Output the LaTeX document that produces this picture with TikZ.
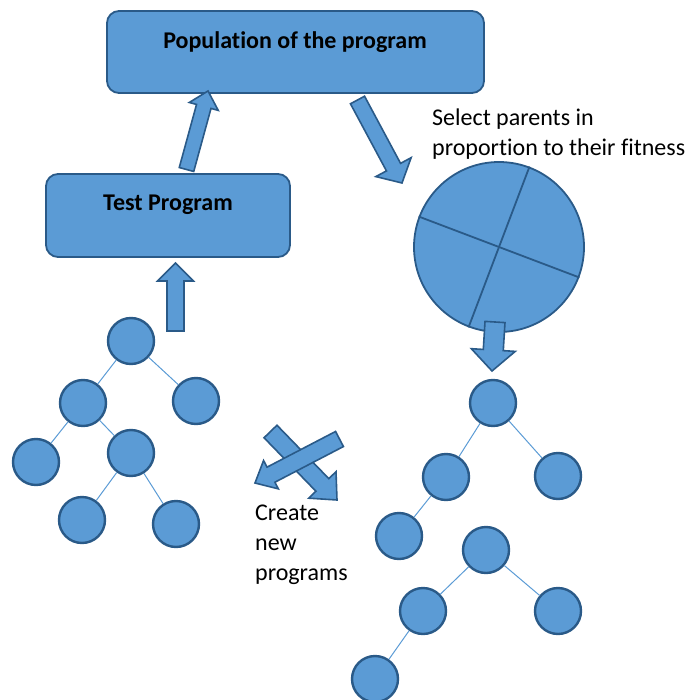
\documentclass[tikz,border=0pt]{standalone}
\usepackage{fontspec}
\setmainfont[RawFeature=-liga]{Carlito}
\usetikzlibrary{calc}

\definecolor{boxfill}{HTML}{5B9BD5}
\definecolor{boxline}{HTML}{2A5A88}
\definecolor{edgeblue}{HTML}{5B9BD5}

\tikzset{
  stepbox/.style={draw=boxline, line width=1.8pt, fill=boxfill, rounded corners=12pt},
  treenode/.style={circle, draw=boxline, line width=2.4pt, fill=boxfill, minimum size=46pt, inner sep=0pt},
  treeedge/.style={draw=edgeblue, line width=1pt},
  fatarrow/.style={draw=boxline, line width=1.6pt, fill=boxfill, line join=miter},
  wheel/.style={circle, draw=boxline, line width=1.8pt, fill=boxfill, minimum size=170pt, inner sep=0pt},
  spoke/.style={draw=boxline, line width=1.8pt},
  caption/.style={font=\fontsize{24}{30}\selectfont, align=left, inner sep=0pt},
  title/.style={font=\bfseries\fontsize{24}{28}\selectfont, inner sep=0pt}
}

% block arrow: #1 tail, #2 tip, #3 shaft half width, #4 head half width, #5 head length
\newcommand\blockarrow[5]{%
  \coordinate (ba-h) at ($(#2)!#5!(#1)$);
  \draw[fatarrow]
    ($(#1)!#3!90:(#2)$) -- ($(ba-h)!#3!90:(#2)$) -- ($(ba-h)!#4!90:(#2)$) --
    (#2) -- ($(ba-h)!#4!-90:(#2)$) -- ($(ba-h)!#3!-90:(#2)$) --
    ($(#1)!#3!-90:(#2)$) -- cycle;
}

\begin{document}
\begin{tikzpicture}[x=1pt, y=-1pt]
\useasboundingbox (0,0) rectangle (687,700);

% boxes
\node[stepbox, minimum width=377pt, minimum height=82pt] (pop) at (295.5,52) {};
\node[title] (poptext) at (295,42) {Population of the program};
\node[stepbox, minimum width=244pt, minimum height=83pt] (test) at (168,215.5) {};
\node[title] (testtext) at (168,205) {Test Program};

% selection wheel
\node[wheel] (wheel) at (499,247) {};
\draw[spoke] ($(wheel.center)+(-80.4,-30.5)$) -- ($(wheel.center)+(80.4,30.5)$);
\draw[spoke] ($(wheel.center)+(30.5,-80.4)$) -- ($(wheel.center)+(-30.5,80.4)$);

% captions
\node[caption, anchor=north west] (sel) at (432,109) {Select parents in\\proportion to their fitness};
\node[caption, anchor=north west] (create) at (255,505) {Create\\new\\programs};

% left tree
\node[treenode] (a1) at (131,341) {};
\node[treenode] (a2) at (83,403) {};
\node[treenode] (a3) at (196,401) {};
\node[treenode] (a4) at (36,462) {};
\node[treenode] (a5) at (131,453) {};
\node[treenode] (a6) at (82,520) {};
\node[treenode] (a7) at (176,524) {};
\draw[treeedge] (a1) -- (a2) (a1) -- (a3) (a2) -- (a4) (a2) -- (a5)
                (a5) -- (a6) (a5) -- (a7);

% right trees
\node[treenode] (b1) at (493,403) {};
\node[treenode] (b2) at (446,477) {};
\node[treenode] (b3) at (558,476) {};
\node[treenode] (b4) at (399,536) {};
\node[treenode] (c1) at (486,550) {};
\node[treenode] (c2) at (423,611) {};
\node[treenode] (c3) at (558,611) {};
\node[treenode] (c4) at (375,679) {};
\draw[treeedge] (b1) -- (b2) (b1) -- (b3) (b2) -- (b4)
                (c1) -- (c2) (c1) -- (c3) (c2) -- (c4);

% arrow end points
\coordinate (upA) at (175.5,331);
\coordinate (upB) at (175.5,263);
\coordinate (tpA) at (186.5,169.5);
\coordinate (tpB) at (208,91);
\coordinate (psA) at (357.5,100);
\coordinate (psB) at (402,183);
\coordinate (wtA) at (495,322);
\coordinate (wtB) at (492,371);
\coordinate (xrA) at (270.5,431.5);
\coordinate (xrB) at (337,500);
\coordinate (xlA) at (339.5,439);
\coordinate (xlB) at (255,483);

\blockarrow{upA}{upB}{8.5pt}{18pt}{18pt}
\blockarrow{tpA}{tpB}{7.5pt}{15pt}{16pt}
\blockarrow{psA}{psB}{8pt}{20pt}{18pt}
\blockarrow{wtA}{wtB}{10pt}{22pt}{21pt}
\blockarrow{xrA}{xrB}{9pt}{19pt}{21pt}
\blockarrow{xlA}{xlB}{8.5pt}{16pt}{18pt}

\end{tikzpicture}
\end{document}
